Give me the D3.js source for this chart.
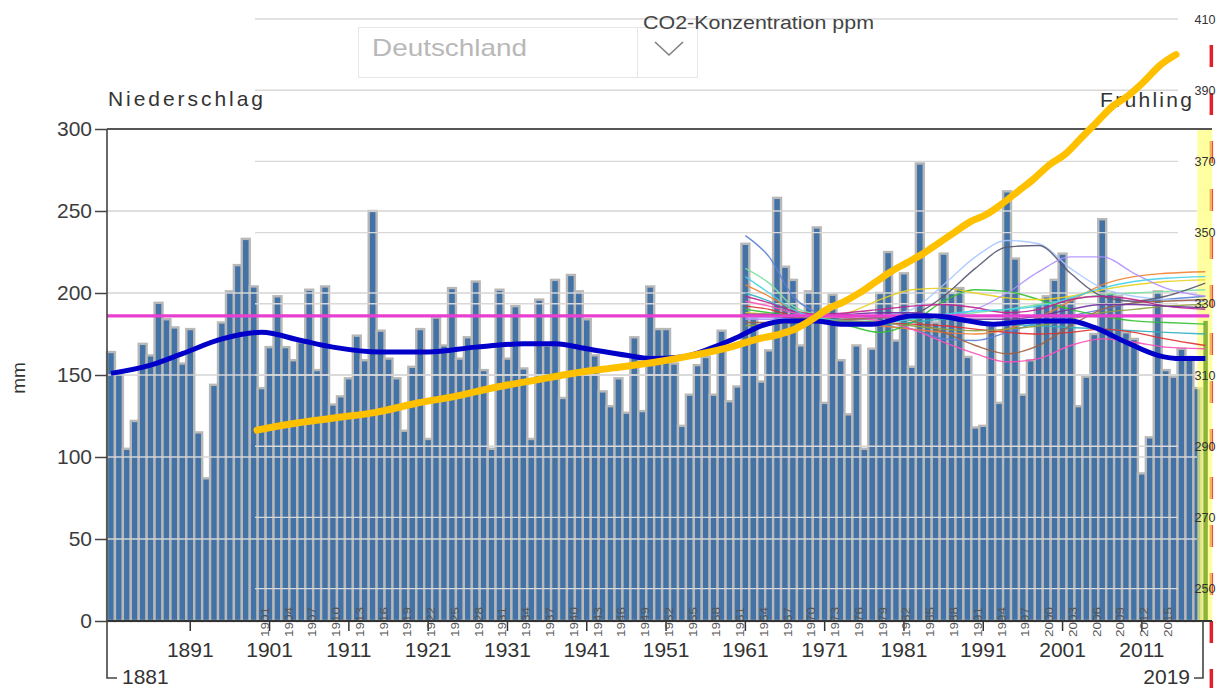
<!DOCTYPE html>
<html lang="de">
<head>
<meta charset="UTF-8">
<title>Niederschlag Frühling</title>
<script src="https://cdn.jsdelivr.net/npm/d3@7"></script>
<style>
  body { margin: 0; background: #fff; }
  svg { display: block; font-family: "Liberation Sans", Arial, sans-serif; }
</style>
</head>
<body>
<svg id="chart" width="1217" height="688"></svg>
<script>
// Frühlingsniederschlag Deutschland (mm), 1881-2019
const firstYear = 1881
const precip = [
  164, 152, 105, 122, 169, 162, 194, 184, 179, 157,
  178, 115, 87, 144, 182, 201, 217, 233, 204, 142,
  167, 198, 167, 159, 170, 202, 153, 204, 132, 137,
  148, 174, 159, 250, 177, 160, 148, 116, 155, 178,
  111, 185, 168, 203, 160, 173, 207, 153, 105, 202,
  160, 192, 154, 111, 196, 168, 208, 136, 211, 201,
  184, 162, 140, 131, 148, 127, 173, 128, 204, 178,
  178, 157, 119, 138, 156, 161, 138, 177, 134, 143,
  230, 185, 146, 165, 258, 216, 208, 168, 201, 240,
  133, 199, 159, 126, 168, 105, 166, 200, 225, 171,
  212, 155, 279, 186, 182, 224, 200, 203, 161, 118,
  119, 180, 133, 262, 221, 138, 159, 193, 198, 208,
  224, 197, 131, 149, 175, 245, 200, 198, 176, 172,
  90, 112, 201, 153, 149, 166, 161, 142, 183
]
const years = precip.map((d, i) => firstYear + i)
const currentYear = 2019

// gleitendes Mittel
const meanYears = [1881, 1886, 1890, 1895, 1900, 1905, 1909, 1915, 1921, 1927, 1933, 1937, 1941, 1946, 1949, 1953, 1957, 1960, 1963, 1966, 1970, 1973, 1977, 1982, 1985, 1989, 1992, 1995, 1998, 2002, 2005, 2009, 2013, 2016, 2019]
const meanVals  = [151, 156, 163, 172, 176, 171, 167, 164, 164, 167, 169, 169, 166, 162, 160, 161, 167, 173, 180, 183, 183, 181, 181, 186, 186, 183, 181, 182, 183, 183, 179, 170, 162, 160, 160]

// Referenzwert
const normal = 186

// Ensemble-Kurven ab 1961
const ensYears = [1961, 1964, 1967, 1970, 1974, 1978, 1982, 1986, 1990, 1994, 1998, 2002, 2006, 2010, 2014, 2019]
const ensVals = [
  [235, 222, 198, 188, 183, 180, 178, 172, 171, 176, 182, 186, 190, 194, 196, 198],
  [215, 206, 192, 187, 185, 183, 184, 186, 188, 190, 193, 196, 199, 200, 201, 202],
  [205, 198, 190, 186, 182, 180, 178, 176, 175, 178, 185, 195, 205, 210, 212, 213],
  [200, 195, 188, 184, 182, 181, 182, 184, 183, 181, 180, 179, 178, 177, 176, 175],
  [192, 190, 186, 184, 183, 182, 181, 180, 178, 176, 175, 176, 178, 176, 172, 168],
  [190, 188, 186, 184, 180, 176, 182, 195, 202, 201, 196, 190, 186, 183, 182, 181],
  [188, 187, 185, 184, 188, 196, 202, 203, 200, 197, 196, 198, 202, 205, 207, 208],
  [195, 192, 188, 186, 185, 183, 178, 170, 163, 158, 160, 168, 172, 170, 167, 166],
  [185, 185, 184, 183, 184, 186, 190, 205, 222, 232, 230, 215, 203, 198, 196, 195],
  [186, 186, 185, 184, 184, 185, 187, 198, 215, 228, 229, 212, 198, 195, 198, 206],
  [184, 184, 183, 183, 184, 185, 186, 186, 190, 200, 213, 222, 222, 212, 203, 198],
  [182, 182, 182, 183, 184, 185, 183, 176, 168, 163, 168, 180, 190, 194, 195, 196],
  [198, 194, 189, 187, 188, 190, 192, 193, 191, 188, 190, 196, 198, 196, 192, 190],
  [210, 200, 190, 185, 183, 182, 184, 187, 189, 190, 192, 197, 203, 207, 209, 210],
  [180, 181, 182, 183, 183, 182, 180, 178, 177, 178, 180, 184, 188, 190, 192, 193],
  [187, 187, 186, 186, 187, 188, 188, 186, 184, 184, 186, 190, 193, 193, 192, 191]
]
const ensColors = ["#5b7fd8", "#7be0a0", "#f08030", "#30b0c0", "#e03030", "#30c030", "#e8d020", "#ff4fb8",
                   "#a8c8ff", "#555570", "#b090ff", "#a06040", "#c02090", "#40d0e8", "#90a040", "#7030a0"]

// CO2-Konzentration (ppm)
const co2Years = [1900, 1905, 1910, 1915, 1920, 1925, 1930, 1935, 1940, 1945, 1950, 1955, 1960, 1963, 1966, 1968, 1970, 1972, 1974, 1976, 1978, 1980, 1982, 1984, 1986, 1988, 1990, 1992, 1994, 1996, 1998, 2000, 2002, 2004, 2006, 2008, 2010, 2012, 2014, 2016]
const co2Vals  = [294.5, 296.5, 298, 299.5, 302, 304, 306.5, 308.5, 310.5, 312, 313.5, 315.5, 318, 320, 321.5, 323, 325.5, 328.5, 330.5, 333, 336, 339, 341.5, 344, 347, 350, 353, 355, 358, 361.5, 365, 369, 372, 376.5, 381, 385.5, 388.5, 392.5, 397, 400]
const co2Ticks = [250, 270, 290, 310, 330, 350, 370, 390, 410]
const co2LabelYears = [1901, 1904, 1907, 1910, 1913, 1916, 1919, 1922, 1925, 1928, 1931, 1934, 1937, 1940, 1943, 1946, 1949, 1952, 1955, 1958, 1961, 1964, 1967, 1970, 1973, 1976, 1979, 1982, 1985, 1988, 1991, 1994, 1997, 2000, 2003, 2006, 2009, 2012, 2015]

const yTicks = [0, 50, 100, 150, 200, 250, 300]
const xTicks = [1891, 1901, 1911, 1921, 1931, 1941, 1951, 1961, 1971, 1981, 1991, 2001, 2011]

const svg = d3.select("#chart")
const plotLeft = 107, plotTop = 129, plotBottom = 621, step = 7.93
const font = "Liberation Sans, Arial, sans-serif"

const x = d3.scaleBand().domain(years).range([plotLeft, plotLeft + years.length * step])
const y = d3.scaleLinear().domain([0, 300]).range([plotBottom, plotTop])
const cx = yr => x(yr) + x.bandwidth() / 2
const xc = d3.scaleLinear().domain([1900, 2016]).range([257, 1176])
const yc = d3.scaleLinear().domain([250, 410]).range([588.6, 19])

//Dropdown
svg.append("rect").attr("x", 358.5).attr("y", 27.5).attr("width", 339).attr("height", 50)
  .attr("fill", "none").attr("stroke", "#e6e6e6")
svg.append("line").attr("x1", 637.5).attr("x2", 637.5).attr("y1", 27.5).attr("y2", 77.5).attr("stroke", "#e6e6e6")
svg.append("text").attr("x", 372).attr("y", 56).attr("font-size", 24).attr("fill", "#b8b8b8")
  .attr("textLength", 155).attr("lengthAdjust", "spacingAndGlyphs").text("Deutschland")
svg.append("path").attr("d", "M655,42 L669,55 L683,42").attr("fill", "none")
  .attr("stroke", "#808080").attr("stroke-width", 1.6)

//Bars
svg.append("g").selectAll("rect")
  .data(precip.map((v, i) => ({year: years[i], value: v})).filter(d => d.year !== currentYear))
  .join("rect")
  .attr("x", d => x(d.year))
  .attr("y", d => y(d.value))
  .attr("width", x.bandwidth())
  .attr("height", d => plotBottom - y(d.value))
  .attr("fill", "#4272a6")
  .attr("stroke", "#b8b8b8")
  .attr("stroke-width", 2.4)

//Gridlines
svg.append("g").selectAll("line").data(yTicks.filter(d => d > 0 && d < 300)).join("line")
  .attr("x1", plotLeft).attr("x2", 1197).attr("y1", d => y(d)).attr("y2", d => y(d))
  .attr("stroke", "#d4d4d4").attr("stroke-width", 1.4)
svg.append("g").selectAll("line").data(co2Ticks).join("line")
  .attr("x1", 255).attr("x2", 1178).attr("y1", d => yc(d)).attr("y2", d => yc(d))
  .attr("stroke", "#d8d8d8").attr("stroke-width", 1.4)

//Red dashed marker, highlight band and current year
const bx = x(currentYear)
svg.append("line").attr("x1", bx + 10).attr("x2", bx + 10).attr("y1", 45).attr("y2", 688)
  .attr("stroke", "#e3202a").attr("stroke-width", 3.5).attr("stroke-dasharray", "22,26")
svg.append("rect").attr("x", bx - 4).attr("y", plotTop).attr("width", 15).attr("height", plotBottom - plotTop)
  .attr("fill", "#ffff70").attr("opacity", 0.65)
svg.append("rect").attr("x", bx + 2).attr("y", y(precip[currentYear - firstYear]))
  .attr("width", 4.5).attr("height", plotBottom - y(precip[currentYear - firstYear]))
  .attr("fill", "#8ab53a")

//Ensemble lines
const ensLine = d3.line().x((d, i) => cx(ensYears[i])).y(d => y(d)).curve(d3.curveMonotoneX)
svg.append("g").selectAll("path").data(ensVals).join("path")
  .attr("d", ensLine)
  .attr("fill", "none")
  .attr("stroke", (d, i) => ensColors[i])
  .attr("stroke-width", 1.4)
  .attr("opacity", 0.9)

//Normal line
svg.append("line").attr("x1", plotLeft).attr("x2", x.range()[1]).attr("y1", y(normal)).attr("y2", y(normal))
  .attr("stroke", "#e83fd1").attr("stroke-width", 3.2)

//Running mean
const meanLine = d3.line().x((d, i) => cx(meanYears[i])).y(d => y(d)).curve(d3.curveMonotoneX)
svg.append("path").datum(meanVals).attr("d", meanLine)
  .attr("fill", "none").attr("stroke", "#0000c8").attr("stroke-width", 5).attr("stroke-linejoin", "round")

//Axes
const yAxis = svg.append("g").attr("transform", `translate(${plotLeft},0)`)
  .call(d3.axisLeft(y).tickValues(yTicks).tickSize(12).tickPadding(3))
yAxis.select(".domain").remove()
yAxis.attr("font-size", 21).attr("font-family", font)
yAxis.selectAll("line").attr("stroke", "#444").attr("stroke-width", 1.5)
yAxis.selectAll("text").attr("fill", "#3c3c3c")

const xAxis = svg.append("g").attr("transform", `translate(0,${plotBottom})`)
  .call(d3.axisBottom(x).tickValues(xTicks).tickSize(10).tickPadding(11))
xAxis.select(".domain").remove()
xAxis.attr("font-size", 21).attr("font-family", font)
xAxis.selectAll("line").attr("stroke", "#333").attr("stroke-width", 1.5)
xAxis.selectAll("text").attr("fill", "#333")

//CO2 axis labels (small, rotated)
svg.append("g").selectAll("text").data(co2LabelYears).join("text")
  .attr("transform", d => `translate(${xc(d)},622) rotate(-90)`)
  .attr("text-anchor", "middle").attr("dy", "0.35em")
  .attr("font-size", 11).attr("fill", "#555")
  .attr("textLength", 30).attr("lengthAdjust", "spacingAndGlyphs")
  .text(d => d)

svg.append("line").attr("x1", plotLeft).attr("x2", 1212).attr("y1", plotBottom).attr("y2", plotBottom)
  .attr("stroke", "#333").attr("stroke-width", 2)
svg.append("line").attr("x1", plotLeft).attr("x2", 1212).attr("y1", plotTop).attr("y2", plotTop)
  .attr("stroke", "#555").attr("stroke-width", 2)
svg.append("path").attr("d", `M${plotLeft},${plotTop} V678 H117`).attr("fill", "none")
  .attr("stroke", "#444").attr("stroke-width", 1.6)
svg.append("path").attr("d", `M1203,${plotBottom} V678 H1194`).attr("fill", "none")
  .attr("stroke", "#444").attr("stroke-width", 1.6)
svg.append("text").attr("x", 122).attr("y", 684).attr("font-size", 21).attr("fill", "#333").text(firstYear)
svg.append("text").attr("x", 1190).attr("y", 684).attr("text-anchor", "end").attr("font-size", 21).attr("fill", "#333").text(currentYear)

//Titles
svg.append("text").attr("x", 108).attr("y", 106).attr("font-size", 21).attr("fill", "#333")
  .attr("textLength", 155).attr("lengthAdjust", "spacing").text("Niederschlag")
svg.append("text").attr("x", 1100).attr("y", 107).attr("font-size", 21).attr("fill", "#333")
  .attr("textLength", 92).attr("lengthAdjust", "spacing").text("Frühling")
svg.append("text").attr("transform", "translate(25,378) rotate(-90)").attr("text-anchor", "middle")
  .attr("font-size", 19).attr("fill", "#333").text("mm")
svg.append("text").attr("x", 643).attr("y", 29).attr("font-size", 19).attr("fill", "#444")
  .attr("textLength", 231).attr("lengthAdjust", "spacingAndGlyphs").text("CO2-Konzentration ppm")

svg.append("g").selectAll("text").data(co2Ticks).join("text")
  .attr("x", 1205).attr("y", d => yc(d) + 4.5)
  .attr("text-anchor", "middle").attr("font-size", 12.5).attr("fill", "#333")
  .attr("textLength", 21).attr("lengthAdjust", "spacingAndGlyphs")
  .text(d => d)

//CO2 line
const co2Line = d3.line().x((d, i) => xc(co2Years[i])).y(d => yc(d)).curve(d3.curveMonotoneX)
svg.append("path").datum(co2Vals).attr("d", co2Line)
  .attr("fill", "none").attr("stroke", "#ffc000").attr("stroke-width", 7)
  .attr("stroke-linecap", "round").attr("stroke-linejoin", "round")
</script>
</body>
</html>
